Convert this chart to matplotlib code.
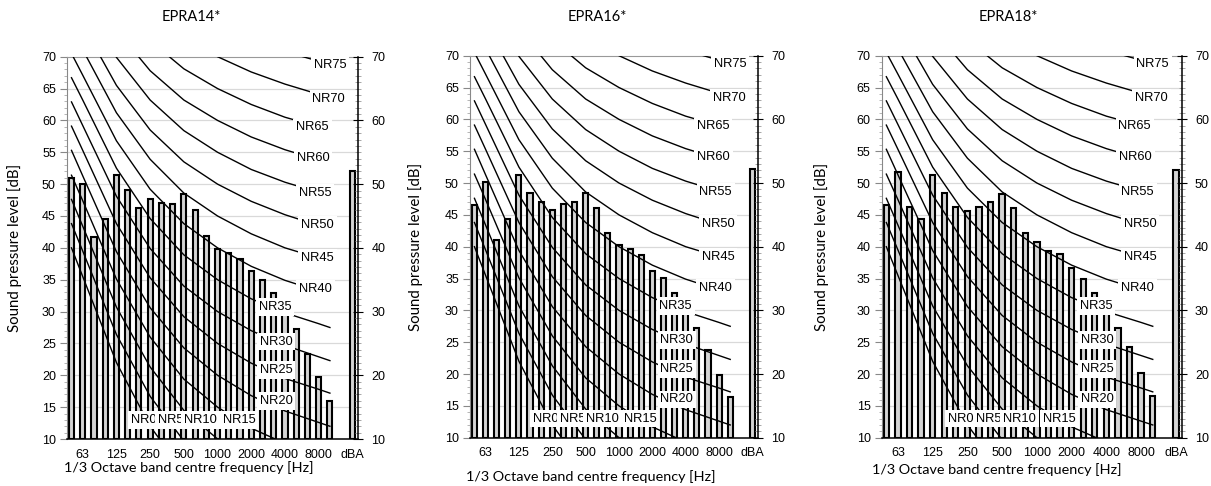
import matplotlib
matplotlib.use("Agg")
from matplotlib import pyplot as plt
from matplotlib.ticker import MultipleLocator

# 1/3 octave bands on the x axis, then an empty slot and the dBA total
bands = ['50', '63', '80', '100', '125', '160', '200', '250', '315', '400', '500', '630',
         '800', '1000', '1250', '1600', '2000', '2500', '3150', '4000', '5000', '6300',
         '8000', '10000']
tick_bands = ['63', '125', '250', '500', '1000', '2000', '4000', '8000']

titles = ['EPRA14*', 'EPRA16*', 'EPRA18*']
epra14 = [50.9, 50.0, 41.7, 44.5, 51.4, 49.1, 46.3, 47.6, 47.1, 46.9, 48.4, 45.9,
          41.8, 39.8, 39.2, 38.3, 36.4, 35.0, 32.9, 30.5, 27.3, 23.4, 19.8, 16.0]
epra16 = [46.5, 50.1, 41.1, 44.3, 51.2, 48.4, 47.0, 45.7, 46.7, 47.0, 48.4, 46.1,
          42.1, 40.2, 39.7, 38.7, 36.2, 35.1, 32.8, 30.5, 27.3, 23.8, 19.9, 16.4]
epra18 = [46.6, 51.7, 46.2, 44.3, 51.3, 48.5, 46.3, 45.6, 46.3, 47.0, 48.3, 46.0,
          42.2, 40.7, 39.4, 38.8, 36.6, 34.9, 32.8, 30.5, 27.3, 24.2, 20.1, 16.6]
dba = [52.1, 52.2, 52.0]

# NR rating curves (dB) at the band points used by the chart
nr_bands = ['50', '63', '125', '250', '500', '1000', '2000', '4000', '8000', '10000']
nr_levels = [0, 5, 10, 15, 20, 25, 30, 35, 40, 45, 50, 55, 60, 65, 70, 75]
nr_curves = [
    [40.0, 35.5, 22.0, 12.0, 4.8, 0.0, -3.5, -6.1, -8.0, -8.6],
    [43.8, 39.5, 26.4, 16.7, 9.7, 5.0, 1.6, -1.0, -2.9, -3.5],
    [47.6, 43.4, 30.7, 21.3, 14.5, 10.0, 6.7, 4.2, 2.3, 1.7],
    [51.4, 47.4, 35.1, 26.0, 19.4, 15.0, 11.7, 9.3, 7.5, 6.8],
    [55.3, 51.3, 39.4, 30.6, 24.3, 20.0, 16.8, 14.4, 12.6, 12.0],
    [59.1, 55.3, 43.8, 35.3, 29.2, 25.0, 21.9, 19.5, 17.8, 17.2],
    [62.9, 59.2, 48.1, 39.9, 34.0, 30.0, 27.0, 24.7, 22.9, 22.3],
    [66.7, 63.2, 52.5, 44.6, 38.9, 35.0, 32.0, 29.8, 28.1, 27.5],
    [70.5, 67.1, 56.8, 49.2, 43.8, 40.0, 37.1, 34.9, 33.2, 32.6],
    [74.4, 71.1, 61.2, 53.9, 48.6, 45.0, 42.2, 40.0, 38.4, 37.8],
    [78.2, 75.0, 65.5, 58.5, 53.5, 50.0, 47.3, 45.2, 43.5, 43.0],
    [82.0, 79.0, 69.9, 63.2, 58.4, 55.0, 52.3, 50.3, 48.7, 48.1],
    [85.8, 82.9, 74.2, 67.8, 63.2, 60.0, 57.4, 55.4, 53.8, 53.3],
    [89.6, 86.9, 78.6, 72.5, 68.1, 65.0, 62.5, 60.5, 59.0, 58.4],
    [93.4, 90.8, 82.9, 77.1, 73.0, 70.0, 67.6, 65.7, 64.1, 63.6],
    [97.3, 94.8, 87.3, 81.8, 77.9, 75.0, 72.6, 70.8, 69.3, 68.7],
]

# where excel put the curve labels (x in band slots, y in dB)
label_pos = [(6.4, 13.0), (8.8, 13.0), (11.5, 13.0), (14.9, 13.0),
             (18.2, 16.0), (18.2, 20.8), (18.2, 25.3), (18.1, 30.7),
             (21.7, 33.5), (21.9, 38.4), (21.9, 43.6), (21.7, 48.6),
             (21.5, 54.1), (21.45, 58.9), (22.9, 63.4), (23.0, 68.7)]

W, H = 1211, 486
# axes boxes in pixels: left, top, right, bottom
boxes = [(67, 56.7, 358, 439), (470, 55.7, 758, 437.7), (881.7, 55.7, 1181.7, 437.7)]
title_x = [191, 597, 1008]
ylabel_x = [15, 416, 822]
xlabel_xy = [(189, 468), (591, 477), (997, 470)]

tick_font = ['Liberation Sans', 'DejaVu Sans']
text_font = ['Lato', 'DejaVu Sans']


def draw_panel(fig, k, values):
    l, t, r, b = boxes[k]
    ax = fig.add_axes([l / W, 1 - b / H, (r - l) / W, (b - t) / H])
    dba_pos = len(bands) + 1
    xs = list(range(len(bands)))

    for y in range(15, 70, 5):
        ax.axhline(y, color='#d9d9d9', lw=0.9, zorder=0)

    heights = [v - 10 for v in values + [dba[k]]]
    ax.bar(xs + [dba_pos], heights, width=0.46, bottom=10,
           color='#d4d4d4', edgecolor='black', linewidth=1.5, zorder=2)

    nr_x = [bands.index(f) for f in nr_bands]
    for curve in nr_curves:
        ax.plot(nr_x, curve, color='black', lw=1.0, zorder=3)

    for lev, (lx, ly) in zip(nr_levels, label_pos):
        ax.text(lx, ly, 'NR%d' % lev, ha='center', va='center', fontsize=9.3,
                family=tick_font, zorder=5, clip_on=False,
                bbox=dict(boxstyle='square,pad=0.22', fc='white', ec='none'))

    ax.set_xlim(-0.4, 25.5)
    ax.set_ylim(10, 70)
    ax.set_xticks([bands.index(f) for f in tick_bands] + [dba_pos])
    ax.set_xticklabels(tick_bands + ['dBA'], family=tick_font, fontsize=9)
    ax.tick_params(axis='x', length=0, pad=7)

    ax.yaxis.set_major_locator(MultipleLocator(5))
    ax.yaxis.set_minor_locator(MultipleLocator(1))
    ax.tick_params(axis='y', which='major', direction='out', length=5, color='#888888',
                   labelsize=9, pad=3)
    ax.tick_params(axis='y', which='minor', direction='out', length=2.5, color='#aaaaaa')
    for lab in ax.get_yticklabels():
        lab.set_family(tick_font)

    ax.spines['left'].set_color('#888888')
    ax.spines['top'].set_color('#999999')
    ax.spines['bottom'].set_color('black')
    ax.spines['bottom'].set_linewidth(1.1)
    ax.spines['right'].set_visible(False)

    ax2 = ax.twinx()
    ax2.set_ylim(10, 70)
    ax2.yaxis.set_major_locator(MultipleLocator(10))
    ax2.yaxis.set_minor_locator(MultipleLocator(1))
    ax2.tick_params(axis='y', which='major', direction='inout', length=7, color='black',
                    labelsize=9, pad=6)
    ax2.tick_params(axis='y', which='minor', direction='inout', length=4, color='#999999')
    for lab in ax2.get_yticklabels():
        lab.set_family(tick_font)
    for s in ['left', 'top', 'bottom']:
        ax2.spines[s].set_visible(False)
    ax2.spines['right'].set_color('black')
    ax2.spines['right'].set_linewidth(1.1)

    fig.text(title_x[k] / W, 1 - 17 / H, titles[k], ha='center', va='center',
             family=text_font, fontsize=10.5)
    fig.text(ylabel_x[k] / W, 1 - (t + b) / 2 / H, 'Sound pressure level [dB]',
             rotation=90, ha='center', va='center', family=text_font, fontsize=10.8)
    fig.text(xlabel_xy[k][0] / W, 1 - xlabel_xy[k][1] / H,
             '1/3 Octave band centre frequency [Hz]', ha='center', va='center',
             family=text_font, fontsize=10.4)
    return ax


if __name__ == '__main__':
    fig = plt.figure(figsize=(W / 100, H / 100), dpi=100)
    for k, vals in enumerate([epra14, epra16, epra18]):
        draw_panel(fig, k, vals)
    fig.savefig('out.png', dpi=100)
